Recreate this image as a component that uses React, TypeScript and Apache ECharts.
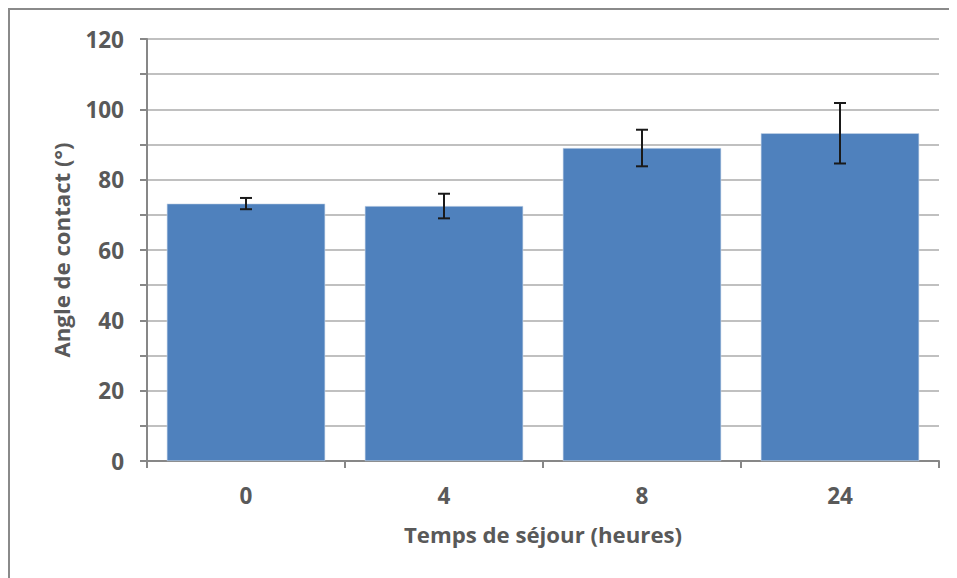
import React, { useEffect, useRef } from "react";
import * as echarts from "echarts";

const categories = ["0", "4", "8", "24"];
const meanValues = [73.2, 72.5, 89.0, 93.2];
const errorValues = [1.6, 3.5, 5.2, 8.6];
const yTitle = "Angle de contact (°)";
const xTitle = "Temps de séjour (heures)";

const FONT = "'Open Sans', 'Noto Sans', sans-serif";
const TEXT = "#595959";

export default function App() {
  const ref = useRef<HTMLDivElement>(null);
  useEffect(() => {
    if (!ref.current) return;
    const chart = echarts.init(ref.current, undefined, { renderer: "svg" });
    const errData = meanValues.map((m, i) => [i, m - errorValues[i], m + errorValues[i]]);
    chart.setOption({
      animation: false,
      grid: { left: 137, top: 29, width: 792, height: 422 },
      xAxis: {
        type: "category",
        data: categories,
        name: xTitle,
        nameLocation: "middle",
        nameGap: 62,
        nameTextStyle: { color: TEXT, fontSize: 22.2, fontWeight: "bold", fontFamily: FONT },
        axisLine: { lineStyle: { color: "#878787", width: 2 } },
        axisTick: { show: true, length: 7, lineStyle: { color: "#878787", width: 2 } },
        axisLabel: { color: TEXT, fontSize: 22.5, fontWeight: "bold", fontFamily: FONT, margin: 23 },
      },
      yAxis: {
        type: "value",
        min: 0,
        max: 120,
        interval: 10,
        name: yTitle,
        nameLocation: "middle",
        nameRotate: 90,
        nameGap: 75,
        nameTextStyle: { color: TEXT, fontSize: 22.2, fontWeight: "bold", fontFamily: FONT },
        axisLine: { show: true, lineStyle: { color: "#878787", width: 2 } },
        axisTick: { show: true, length: 7, lineStyle: { color: "#878787", width: 2 } },
        axisLabel: {
          color: TEXT,
          fontSize: 22.5,
          fontWeight: "bold",
          fontFamily: FONT,
          margin: 23,
          formatter: (v: number) => (v % 20 === 0 ? String(v) : ""),
        },
        splitLine: { show: true, lineStyle: { color: "#c0c0c0", width: 2 } },
      },
      series: [
        {
          type: "bar",
          data: meanValues,
          barCategoryGap: "20%",
          itemStyle: { color: "#4f81bd", borderColor: "#c9d7ea", borderWidth: 0.6 },
        },
        {
          type: "custom",
          data: errData,
          z: 10,
          renderItem: (params: any, api: any) => {
            const x = api.value(0);
            const lo = api.coord([x, api.value(1)]);
            const hi = api.coord([x, api.value(2)]);
            const half = 6;
            const style = { stroke: "#1a1a1a", lineWidth: 2 };
            return {
              type: "group",
              children: [
                { type: "line", shape: { x1: lo[0], y1: lo[1], x2: hi[0], y2: hi[1] }, style },
                { type: "line", shape: { x1: lo[0] - half, y1: lo[1], x2: lo[0] + half, y2: lo[1] }, style },
                { type: "line", shape: { x1: hi[0] - half, y1: hi[1], x2: hi[0] + half, y2: hi[1] }, style },
              ],
            };
          },
        },
      ],
    });
    return () => chart.dispose();
  }, []);
  return (
    <div
      ref={ref}
      style={{
        width: 960,
        height: 580,
        boxSizing: "border-box",
        borderLeft: "2px solid #8a8a8a",
        borderTop: "2px solid #8a8a8a",
        background: "#fff",
      }}
    />
  );
}
